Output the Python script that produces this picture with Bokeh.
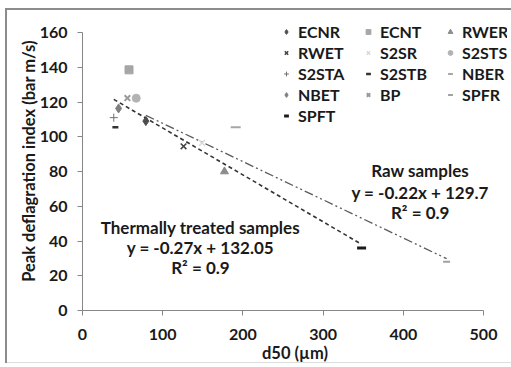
import numpy as np
from bokeh.plotting import figure
from bokeh.models import (Legend, LegendItem, Label, ColumnDataSource, Range1d)
from bokeh.embed import file_html
from bokeh.resources import INLINE

# ---------------- data ----------------
names = ["ECNR", "ECNT", "RWER", "RWET", "S2SR", "S2STS", "S2STA",
         "S2STB", "NBER", "NBET", "BP", "SPFR", "SPFT"]
d50 = [79, 58, 177, 126, 149, 67, 39, 41, 191, 45, 56, 454, 348]
pdi = [109, 138.5, 80, 94.5, 96.5, 122.2, 111, 105.5, 105.5, 116.3, 122.3, 28, 36]
group = ["raw", "treated", "raw", "treated", "raw", "treated", "treated",
         "treated", "raw", "treated", "treated", "raw", "treated"]

thermal_fit = {"slope": -0.27, "intercept": 132.05}
raw_fit = {"slope": -0.22, "intercept": 129.7}

x_ticks = [0, 100, 200, 300, 400, 500]
y_ticks = [0, 20, 40, 60, 80, 100, 120, 140, 160]

# ---------------- styles ----------------
styles = {
    "ECNR":  dict(marker="diamond", size=9, fill_color="#4d4d4d", line_color="#4d4d4d", line_width=1),
    "ECNT":  dict(marker="square", size=8, fill_color="#a6a6a6", line_color="#a6a6a6", line_width=1),
    "RWER":  dict(marker="triangle", size=8, fill_color="#8c8c8c", line_color="#8c8c8c", line_width=1),
    "RWET":  dict(marker="x", size=8, fill_color=None, line_color="#404040", line_width=1.5),
    "S2SR":  dict(marker="x", size=8, fill_color=None, line_color="#d9d9d9", line_width=1.5),
    "S2STS": dict(marker="circle", size=8, fill_color="#b3b3b3", line_color="#b3b3b3", line_width=1),
    "S2STA": dict(marker="cross", size=8, fill_color=None, line_color="#707070", line_width=1),
    "S2STB": dict(marker="dash", size=6, fill_color=None, line_color="#333333", line_width=2.5),
    "NBER":  dict(marker="dash", size=10, fill_color=None, line_color="#a6a6a6", line_width=2),
    "NBET":  dict(marker="diamond", size=9, fill_color="#7f7f7f", line_color="#7f7f7f", line_width=1),
    "BP":    dict(marker="x", size=8, fill_color=None, line_color="#9a9a9a", line_width=2),
    "SPFR":  dict(marker="dash", size=7, fill_color=None, line_color="#a0a0a0", line_width=2),
    "SPFT":  dict(marker="dash", size=9, fill_color=None, line_color="#1a1a1a", line_width=3),
}

FONT = "Lato"
TXT = "#1a1a1a"

# frame: x 0..500 -> 401 px, y 0..160 -> 278 px; extended so the legend is not clipped
x_per_px = 500 / 401.0
y_per_px = 160 / 278.0
frame_left, frame_right, frame_top, frame_bottom = 82, 507, 11, 310

p = figure(width=511, height=367, output_backend="svg", toolbar_location=None,
           x_range=Range1d(0, (frame_right - frame_left) * x_per_px),
           y_range=Range1d(0, (frame_bottom - frame_top) * y_per_px),
           min_border_left=frame_left, min_border_right=511 - frame_right,
           min_border_top=frame_top, min_border_bottom=367 - frame_bottom)
p.outline_line_color = None
p.grid.visible = False
p.background_fill_color = "white"
p.border_fill_alpha = 0
p.styles = {
    "background": ("linear-gradient(#8c8c8c,#8c8c8c) 5px 8px / 2px 355px no-repeat, "
                   "linear-gradient(#8c8c8c,#8c8c8c) 5px 8px / 506px 2px no-repeat, "
                   "linear-gradient(#dddddd,#dddddd) 5px 362px / 506px 1px no-repeat, white"),
}

# trend lines
d50_arr = np.array(d50, dtype=float)
grp = np.array(group)
for fit, g, dash, color, lw in [(thermal_fit, "treated", "4 3", "#333333", 1.6),
                                (raw_fit, "raw", "9 3 2 3 2 3", "#5a5a5a", 1.3)]:
    xs = d50_arr[grp == g]
    xl = np.array([xs.min(), xs.max()])
    yl = fit["slope"] * xl + fit["intercept"]
    p.line(xl, yl, line_color=color, line_width=lw, line_dash=dash)

renderers = {}
for n, x, y in zip(names, d50, pdi):
    st = styles[n]
    src = ColumnDataSource(dict(x=[x], y=[y]))
    renderers[n] = p.scatter("x", "y", source=src, **st)

# legend: 3 columns filled row by row
items = [LegendItem(label=n, renderers=[renderers[n]]) for n in names]
legend = Legend(items=items, orientation="horizontal", ncols=3,
                location=(198, 184),
                background_fill_alpha=0, border_line_color=None,
                padding=0, margin=0, spacing=0,
                glyph_width=12, glyph_height=21, label_height=21, label_width=64,
                label_standoff=6,
                label_text_font=FONT, label_text_font_style="bold",
                label_text_font_size="16px", label_text_color=TXT)
p.add_layout(legend, "center")

# axes
for ax in (p.xaxis[0], p.yaxis[0]):
    ax.axis_line_color = "#868686"
    ax.major_tick_line_color = "#868686"
    ax.minor_tick_line_color = None
    ax.major_tick_out = 5
    ax.major_tick_in = 0
    ax.major_label_text_font = FONT
    ax.major_label_text_font_style = "bold"
    ax.major_label_text_font_size = "16px"
    ax.major_label_text_color = TXT
    ax.axis_label_text_font = FONT
    ax.axis_label_text_font_style = "bold"
    ax.axis_label_text_font_size = "16.5px"
    ax.axis_label_text_color = TXT

p.xaxis.ticker = x_ticks
p.yaxis.ticker = y_ticks
p.xaxis.bounds = (x_ticks[0], x_ticks[-1])
p.yaxis.bounds = (y_ticks[0], y_ticks[-1])
p.xaxis.axis_label = "d50 (µm)"
p.yaxis.axis_label = "Peak deflagration index (bar m/s)"
p.yaxis.major_label_standoff = 10
p.xaxis.major_label_standoff = 13
p.yaxis.axis_label_standoff = -2
p.xaxis.axis_label_standoff = 0

# annotations
ann = [
    (147, 48.0, "Thermally treated samples"),
    (147, 36.3, "y = -0.27x + 132.05"),
    (147, 24.7, "R² = 0.9"),
    (421, 80.6, "Raw samples"),
    (421, 67.9, "y = -0.22x + 129.7"),
    (421, 56.4, "R² = 0.9"),
]
for x, y, t in ann:
    p.add_layout(Label(x=x, y=y, text=t, text_align="center", text_baseline="middle",
                       text_font=FONT, text_font_style="bold", text_font_size="17px",
                       text_color=TXT))

open("out.html", "w").write(file_html(p, INLINE))
